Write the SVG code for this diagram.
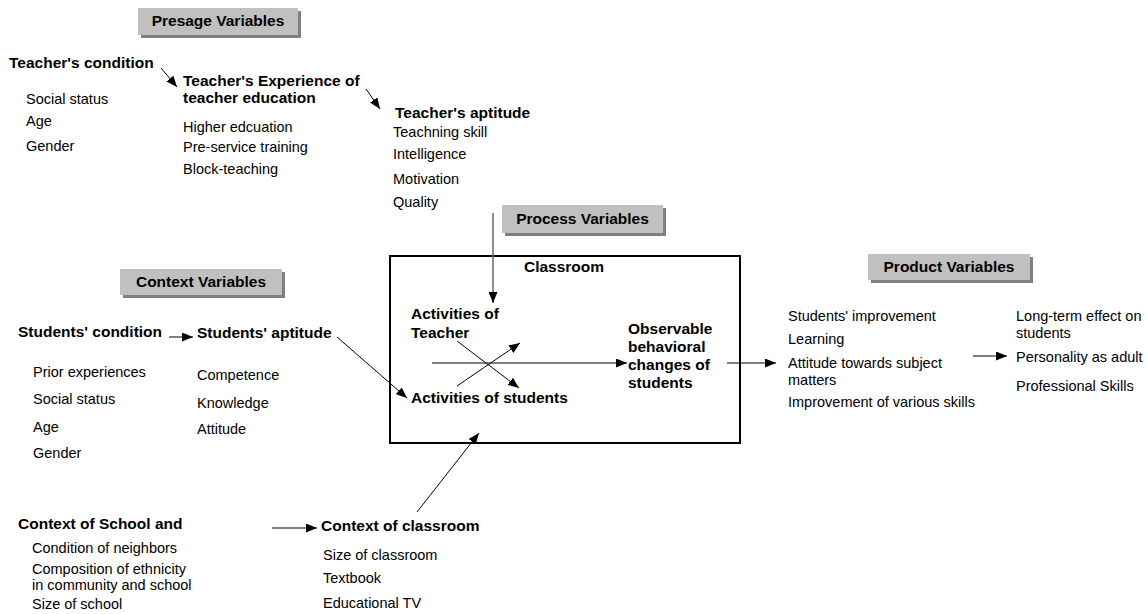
<svg xmlns="http://www.w3.org/2000/svg" width="1147" height="614" viewBox="0 0 1147 614">
<defs>
<marker id="ah" markerUnits="userSpaceOnUse" markerWidth="12" markerHeight="9" refX="11" refY="4.5" orient="auto">
<path d="M0,0 L11,4.5 L0,9 z" fill="#000"/>
</marker>
<style>
text{font-family:"Liberation Sans",Arial,sans-serif;fill:#000}
.b{font-weight:bold;font-size:15.5px}
.r{font-size:14.5px}
.hdr{fill:#c0c0c0}
.sh{fill:#808080}
.c{stroke:#000;stroke-width:1;fill:none;marker-end:url(#ah)}
</style>
</defs>
<rect width="1147" height="614" fill="#fff"/>

<g id="presage-header">
<rect class="sh" x="141" y="11" width="160" height="27"/>
<rect class="hdr" x="138" y="8" width="160" height="27"/>
<text class="b" x="218" y="26" text-anchor="middle">Presage Variables</text>
</g>

<g id="process-header">
<rect class="sh" x="505" y="208" width="161" height="28"/>
<rect class="hdr" x="502" y="205" width="161" height="28"/>
<text class="b" x="582.5" y="224" text-anchor="middle">Process Variables</text>
</g>

<g id="context-header">
<rect class="sh" x="123" y="272" width="162" height="26"/>
<rect class="hdr" x="120" y="269" width="162" height="26"/>
<text class="b" x="201" y="287" text-anchor="middle">Context Variables</text>
</g>

<g id="product-header">
<rect class="sh" x="871" y="257" width="162" height="26"/>
<rect class="hdr" x="868" y="254" width="162" height="26"/>
<text class="b" x="949" y="272" text-anchor="middle">Product Variables</text>
</g>

<g id="teachers-condition">
<text class="b" x="9" y="68">Teacher's condition</text>
<text class="r" x="26" y="104">Social status</text>
<text class="r" x="26" y="126">Age</text>
<text class="r" x="26" y="151">Gender</text>
</g>

<g id="teachers-experience">
<text class="b" x="183" y="86">Teacher's Experience of</text>
<text class="b" x="183" y="103">teacher education</text>
<text class="r" x="183" y="132">Higher edcuation</text>
<text class="r" x="183" y="152">Pre-service training</text>
<text class="r" x="183" y="174">Block-teaching</text>
</g>

<g id="teachers-aptitude">
<text class="b" x="395" y="118">Teacher's aptitude</text>
<text class="r" x="393" y="137">Teachning skill</text>
<text class="r" x="393" y="159">Intelligence</text>
<text class="r" x="393" y="184">Motivation</text>
<text class="r" x="393" y="207">Quality</text>
</g>

<g id="classroom">
<rect x="390" y="256" width="350" height="187" fill="none" stroke="#000" stroke-width="2"/>
<text class="b" x="564" y="272" text-anchor="middle">Classroom</text>
</g>

<g id="activities-teacher">
<text class="b" x="411" y="319">Activities of</text>
<text class="b" x="411" y="338">Teacher</text>
</g>

<g id="activities-students">
<text class="b" x="411" y="403">Activities of students</text>
</g>

<g id="observable-changes">
<text class="b" x="628" y="334">Observable</text>
<text class="b" x="628" y="352">behavioral</text>
<text class="b" x="628" y="370">changes of</text>
<text class="b" x="628" y="388">students</text>
</g>

<g id="students-condition">
<text class="b" x="18" y="337">Students' condition</text>
<text class="r" x="33" y="377">Prior experiences</text>
<text class="r" x="33" y="404">Social status</text>
<text class="r" x="33" y="432">Age</text>
<text class="r" x="33" y="458">Gender</text>
</g>

<g id="students-aptitude">
<text class="b" x="197" y="338">Students' aptitude</text>
<text class="r" x="197" y="380">Competence</text>
<text class="r" x="197" y="408">Knowledge</text>
<text class="r" x="197" y="434">Attitude</text>
</g>

<g id="context-school">
<text class="b" x="18" y="529">Context of School and</text>
<text class="r" x="32" y="553">Condition of neighbors</text>
<text class="r" x="32" y="574">Composition of ethnicity</text>
<text class="r" x="32" y="590">in community and school</text>
<text class="r" x="32" y="609">Size of school</text>
</g>

<g id="context-classroom">
<text class="b" x="321" y="531">Context of classroom</text>
<text class="r" x="323" y="560">Size of classroom</text>
<text class="r" x="323" y="583">Textbook</text>
<text class="r" x="323" y="608">Educational TV</text>
</g>

<g id="students-improvement">
<text class="r" x="788" y="321">Students' improvement</text>
<text class="r" x="788" y="344">Learning</text>
<text class="r" x="788" y="368">Attitude towards subject</text>
<text class="r" x="788" y="385">matters</text>
<text class="r" x="788" y="407">Improvement of various skills</text>
</g>

<g id="long-term-effect">
<text class="r" x="1016" y="321">Long-term effect on</text>
<text class="r" x="1016" y="338">students</text>
<text class="r" x="1016" y="362">Personality as adult</text>
<text class="r" x="1016" y="391">Professional Skills</text>
</g>

<g id="connectors">
<line class="c" x1="161" y1="68" x2="177" y2="87"/>
<line class="c" x1="366" y1="89" x2="380" y2="109"/>
<line class="c" x1="493" y1="213" x2="493" y2="303" style="stroke:#666;stroke-width:1.5"/>
<line class="c" x1="432" y1="363" x2="627" y2="363"/>
<line class="c" x1="457" y1="341" x2="519" y2="388"/>
<line class="c" x1="457" y1="386" x2="520" y2="343"/>
<line class="c" x1="169" y1="337" x2="193" y2="337"/>
<line class="c" x1="337" y1="337" x2="407" y2="398"/>
<line class="c" x1="272" y1="528" x2="317" y2="528"/>
<line class="c" x1="417" y1="512" x2="479" y2="433"/>
<line class="c" x1="727" y1="363" x2="776" y2="363"/>
<line class="c" x1="973" y1="356" x2="1007" y2="356"/>
</g>
</svg>
